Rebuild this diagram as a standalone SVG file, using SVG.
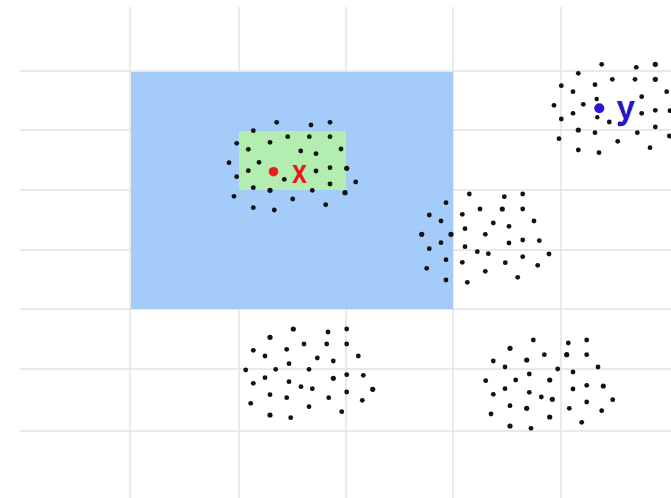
<svg xmlns="http://www.w3.org/2000/svg" width="671" height="498" viewBox="0 0 671 498">
<style>
.g{stroke:#e2e2e2;stroke-width:1.4;fill:none}
.d circle{fill:#111}
.lbl{font-family:"Liberation Sans",Arial,sans-serif;font-weight:bold;font-size:34px}
</style>
<rect x="0" y="0" width="671" height="498" fill="#ffffff"/>
<g id="grid">
<line class="g" x1="130" y1="7" x2="130" y2="498"/>
<line class="g" x1="239" y1="7" x2="239" y2="498"/>
<line class="g" x1="346" y1="7" x2="346" y2="498"/>
<line class="g" x1="453" y1="7" x2="453" y2="498"/>
<line class="g" x1="561" y1="7" x2="561" y2="498"/>
<line class="g" x1="20" y1="71" x2="671" y2="71"/>
<line class="g" x1="20" y1="130" x2="671" y2="130"/>
<line class="g" x1="20" y1="190" x2="671" y2="190"/>
<line class="g" x1="20" y1="250" x2="671" y2="250"/>
<line class="g" x1="20" y1="309" x2="671" y2="309"/>
<line class="g" x1="20" y1="369" x2="671" y2="369"/>
<line class="g" x1="20" y1="431" x2="671" y2="431"/>
</g>
<g id="region-blue">
<rect x="131" y="72" width="322" height="237" fill="#9ec7f8" fill-opacity="0.93"/>
</g>
<g id="region-green">
<rect x="239" y="131" width="107" height="59" fill="#b4f0aa" fill-opacity="0.93"/>
</g>
<g id="cluster-x" class="d">
<circle cx="276.7" cy="122.3" r="2.4"/><circle cx="311" cy="125" r="2.4"/><circle cx="330" cy="122.3" r="2.4"/>
<circle cx="253.3" cy="130.7" r="2.4"/><circle cx="236.7" cy="143.3" r="2.4"/><circle cx="270" cy="142.3" r="2.4"/>
<circle cx="287.7" cy="136.7" r="2.4"/><circle cx="309.3" cy="136.7" r="2.4"/><circle cx="330" cy="136.7" r="2.4"/>
<circle cx="248.3" cy="149.3" r="2.4"/><circle cx="300.7" cy="151" r="2.4"/><circle cx="316" cy="153.7" r="2.4"/>
<circle cx="341" cy="149" r="2.4"/><circle cx="229" cy="162.7" r="2.4"/><circle cx="259" cy="162.3" r="2.4"/>
<circle cx="248.3" cy="170.7" r="2.4"/><circle cx="236.7" cy="176.7" r="2.4"/><circle cx="284.3" cy="179.3" r="2.4"/>
<circle cx="316" cy="171" r="2.4"/><circle cx="330" cy="167.7" r="2.4"/><circle cx="346.7" cy="168.3" r="2.6"/>
<circle cx="330" cy="184" r="2.4"/><circle cx="355.7" cy="182" r="2.4"/><circle cx="253.3" cy="187.7" r="2.4"/>
<circle cx="270" cy="190.3" r="2.6"/><circle cx="312.3" cy="190.3" r="2.4"/><circle cx="345" cy="192.7" r="2.6"/>
<circle cx="234" cy="196.3" r="2.4"/><circle cx="292.7" cy="199" r="2.4"/><circle cx="325.7" cy="204.7" r="2.4"/>
<circle cx="253.3" cy="207.7" r="2.4"/><circle cx="274.3" cy="210" r="2.4"/>
</g>
<g id="cluster-y" class="d">
<circle cx="601.7" cy="64.3" r="2.4"/><circle cx="636.3" cy="67.3" r="2.4"/><circle cx="655.3" cy="64.3" r="2.6"/>
<circle cx="578.3" cy="73.3" r="2.4"/><circle cx="612.3" cy="79.3" r="2.4"/><circle cx="635" cy="79.3" r="2.4"/>
<circle cx="655.3" cy="79.3" r="2.6"/><circle cx="561.3" cy="85.7" r="2.4"/><circle cx="595" cy="84.7" r="2.4"/>
<circle cx="573" cy="91.7" r="2.4"/><circle cx="666.7" cy="91.7" r="2.4"/><circle cx="641.7" cy="96.7" r="2.4"/>
<circle cx="596.7" cy="99" r="2.2"/><circle cx="554" cy="105.3" r="2.4"/><circle cx="583.3" cy="104.3" r="2.4"/>
<circle cx="573" cy="113.3" r="2.4"/><circle cx="597.3" cy="117.3" r="2.2"/><circle cx="641.7" cy="113.3" r="2.4"/>
<circle cx="655.3" cy="110.3" r="2.4"/><circle cx="670" cy="110.7" r="2.4"/><circle cx="561.3" cy="119" r="2.4"/>
<circle cx="609.3" cy="122" r="2.4"/><circle cx="620" cy="124" r="2.4"/><circle cx="578.3" cy="130" r="2.6"/>
<circle cx="595" cy="132.7" r="2.4"/><circle cx="637.3" cy="132.7" r="2.4"/><circle cx="655.3" cy="127" r="2.4"/>
<circle cx="669.3" cy="136" r="2.4"/><circle cx="559" cy="138.7" r="2.4"/><circle cx="617.7" cy="141.3" r="2.4"/>
<circle cx="650" cy="147.7" r="2.4"/><circle cx="578.3" cy="150" r="2.4"/><circle cx="599" cy="152.7" r="2.4"/>
</g>
<g id="cluster-mid" class="d">
<circle cx="469.3" cy="194" r="2.4"/><circle cx="504.3" cy="196.7" r="2.4"/><circle cx="522.7" cy="194" r="2.4"/>
<circle cx="446" cy="202.7" r="2.4"/><circle cx="480" cy="209" r="2.4"/><circle cx="502.3" cy="209" r="2.6"/>
<circle cx="522.7" cy="209" r="2.4"/><circle cx="429.3" cy="215" r="2.4"/><circle cx="462.3" cy="214.3" r="2.4"/>
<circle cx="441" cy="221" r="2.4"/><circle cx="493.3" cy="223" r="2.4"/><circle cx="509" cy="226.3" r="2.4"/>
<circle cx="534" cy="221" r="2.4"/><circle cx="421.7" cy="234.3" r="2.6"/><circle cx="451" cy="234.3" r="2.6"/>
<circle cx="465" cy="228.7" r="2.4"/><circle cx="485.3" cy="234.3" r="2.4"/><circle cx="441" cy="242.7" r="2.4"/>
<circle cx="509" cy="243" r="2.4"/><circle cx="522.7" cy="240" r="2.4"/><circle cx="539.3" cy="240.7" r="2.4"/>
<circle cx="429.3" cy="248.7" r="2.4"/><circle cx="465" cy="246.7" r="2.4"/><circle cx="477.3" cy="251.7" r="2.4"/>
<circle cx="488.3" cy="253.7" r="2.4"/><circle cx="446" cy="259.7" r="2.4"/><circle cx="462.3" cy="262.3" r="2.4"/>
<circle cx="505.3" cy="262.7" r="2.4"/><circle cx="522.7" cy="256.7" r="2.4"/><circle cx="549" cy="254" r="2.4"/>
<circle cx="537.7" cy="265.3" r="2.4"/><circle cx="426.7" cy="268.3" r="2.4"/><circle cx="485.3" cy="271.3" r="2.4"/>
<circle cx="517.7" cy="277.3" r="2.4"/><circle cx="446" cy="280" r="2.4"/><circle cx="467.3" cy="282.3" r="2.4"/>
</g>
<g id="cluster-bl" class="d">
<circle cx="293.3" cy="329" r="2.6"/><circle cx="328" cy="332" r="2.4"/><circle cx="346.7" cy="329" r="2.4"/>
<circle cx="270" cy="337.3" r="2.6"/><circle cx="304" cy="344" r="2.4"/><circle cx="326.7" cy="344" r="2.4"/>
<circle cx="346.7" cy="344" r="2.4"/><circle cx="253.3" cy="350.3" r="2.4"/><circle cx="286.7" cy="349.3" r="2.4"/>
<circle cx="265" cy="356" r="2.4"/><circle cx="317.3" cy="358" r="2.4"/><circle cx="333.3" cy="361" r="2.4"/>
<circle cx="358.3" cy="356" r="2.4"/><circle cx="289" cy="363.7" r="2.4"/><circle cx="245.7" cy="370" r="2.4"/>
<circle cx="275.7" cy="369.3" r="2.4"/><circle cx="309" cy="369.3" r="2.4"/><circle cx="265" cy="377.7" r="2.4"/>
<circle cx="253.3" cy="383.3" r="2.4"/><circle cx="289" cy="381.7" r="2.4"/><circle cx="333.3" cy="378.3" r="2.6"/>
<circle cx="346.7" cy="374.7" r="2.4"/><circle cx="363.3" cy="375.3" r="2.4"/><circle cx="301" cy="386.7" r="2.4"/>
<circle cx="312.3" cy="388.7" r="2.4"/><circle cx="346.7" cy="392" r="2.4"/><circle cx="372.7" cy="389.3" r="2.6"/>
<circle cx="270" cy="394.7" r="2.4"/><circle cx="286.7" cy="397.7" r="2.4"/><circle cx="328.7" cy="397.7" r="2.4"/>
<circle cx="362.3" cy="400.3" r="2.4"/><circle cx="250.7" cy="403.3" r="2.4"/><circle cx="309" cy="406.7" r="2.4"/>
<circle cx="341.7" cy="411.7" r="2.4"/><circle cx="270" cy="415" r="2.6"/><circle cx="290.7" cy="417.7" r="2.4"/>
</g>
<g id="cluster-br" class="d">
<circle cx="533.3" cy="340" r="2.4"/><circle cx="568.3" cy="343" r="2.4"/><circle cx="586.7" cy="340" r="2.4"/>
<circle cx="510" cy="348.3" r="2.6"/><circle cx="544.3" cy="354.7" r="2.4"/><circle cx="566.7" cy="354.7" r="2.6"/>
<circle cx="586.7" cy="354.7" r="2.4"/><circle cx="493.3" cy="361" r="2.4"/><circle cx="526.7" cy="360" r="2.6"/>
<circle cx="505" cy="367" r="2.4"/><circle cx="557.7" cy="369" r="2.4"/><circle cx="573" cy="372" r="2.4"/>
<circle cx="598" cy="367" r="2.4"/><circle cx="529.3" cy="374" r="2.4"/><circle cx="485.7" cy="380.7" r="2.4"/>
<circle cx="515.7" cy="380" r="2.4"/><circle cx="549.7" cy="380" r="2.6"/><circle cx="505" cy="388.7" r="2.4"/>
<circle cx="493.3" cy="394.3" r="2.4"/><circle cx="529.3" cy="392.3" r="2.4"/><circle cx="573" cy="389" r="2.4"/>
<circle cx="586.7" cy="385.3" r="2.4"/><circle cx="603.3" cy="386" r="2.6"/><circle cx="541.3" cy="397" r="2.4"/>
<circle cx="552.3" cy="399.3" r="2.6"/><circle cx="586.7" cy="402" r="2.4"/><circle cx="612.7" cy="399.7" r="2.4"/>
<circle cx="510" cy="405.7" r="2.4"/><circle cx="526.7" cy="408.3" r="2.6"/><circle cx="569.3" cy="408.3" r="2.4"/>
<circle cx="601.7" cy="410.7" r="2.4"/><circle cx="491" cy="414" r="2.4"/><circle cx="549.7" cy="417" r="2.6"/>
<circle cx="581.7" cy="422.3" r="2.4"/><circle cx="510" cy="426" r="2.6"/><circle cx="531" cy="428.3" r="2.4"/>
</g>
<g id="point-x">
<circle cx="273.5" cy="171.7" r="4.8" fill="#e61e1e"/>
<text class="lbl" x="292" y="182.5" fill="#e01c1c" textLength="15" lengthAdjust="spacingAndGlyphs">x</text>
</g>
<g id="point-y">
<circle cx="599.3" cy="108.3" r="5" fill="#2a14d8"/>
<text class="lbl" x="616.5" y="118.5" fill="#2a14c8" textLength="18.5" lengthAdjust="spacingAndGlyphs">y</text>
</g>
</svg>
